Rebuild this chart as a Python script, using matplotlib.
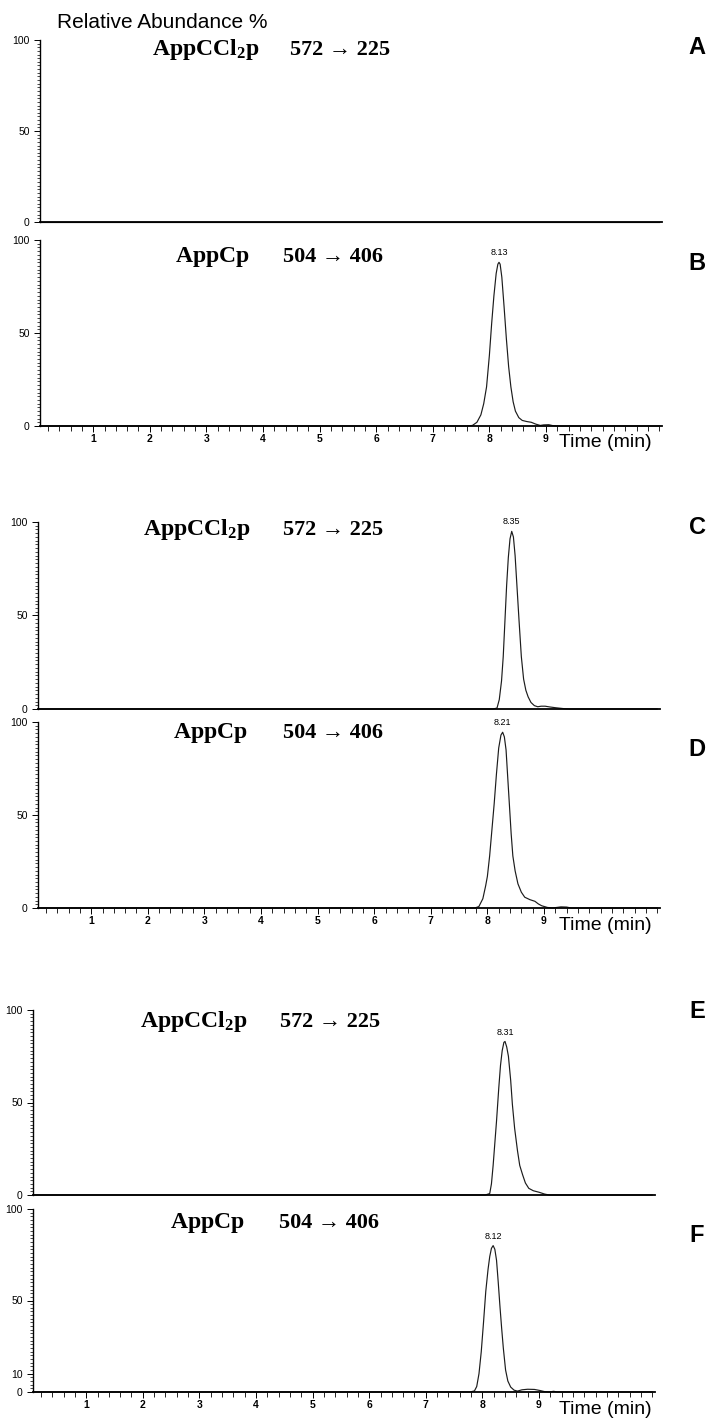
import matplotlib
matplotlib.use("Agg")
import matplotlib.pyplot as plt
from matplotlib.ticker import MultipleLocator, FixedLocator, NullLocator

plt.rcParams['font.family'] = ['Liberation Sans', 'DejaVu Sans']
plt.rcParams['mathtext.fontset'] = 'custom'
plt.rcParams['mathtext.bf'] = 'Liberation Serif:bold'
plt.rcParams['mathtext.rm'] = 'Liberation Serif'
plt.rcParams['mathtext.it'] = 'Liberation Serif:italic'

# ---------------- data (time in min, relative abundance %) ----------------
a_time = [0.06, 11.0]
a_int = [0, 0]

b_time = [0.06, 7.60, 7.70, 7.78, 7.85, 7.90, 7.95, 8.00, 8.04, 8.08, 8.12, 8.15, 8.17,
          8.19, 8.22, 8.26, 8.30, 8.34, 8.38, 8.42, 8.46, 8.52, 8.58, 8.66, 8.74, 8.82,
          8.90, 8.96, 9.05, 9.12, 9.20, 11.0]
b_int = [0, 0, 0.3, 2, 6, 12, 21, 38, 55, 70, 82, 87, 88,
         87, 80, 64, 47, 32, 21, 13, 8, 4.5, 3, 2.4, 2, 1,
         0.3, 0.6, 0.7, 0.2, 0, 0]

c_time = [0.06, 8.10, 8.17, 8.21, 8.25, 8.28, 8.31, 8.34, 8.37, 8.40, 8.43, 8.46, 8.49,
          8.52, 8.56, 8.60, 8.64, 8.68, 8.72, 8.77, 8.83, 8.89, 8.95, 9.02, 9.10, 9.20,
          9.35, 9.45, 11.0]
c_int = [0, 0, 0.5, 5, 15, 28, 47, 66, 81, 91, 95, 92, 82,
         67, 47, 28, 16, 10, 6.5, 3.5, 1.8, 1.2, 1.5, 1.5, 1.1, 0.7,
         0.2, 0, 0]

d_time = [0.06, 7.78, 7.85, 7.92, 7.97, 8.00, 8.04, 8.08, 8.12, 8.16, 8.20, 8.24, 8.27,
          8.30, 8.33, 8.36, 8.39, 8.42, 8.45, 8.49, 8.54, 8.60, 8.66, 8.75, 8.84, 8.90,
          8.96, 9.06, 9.15, 9.30, 9.40, 9.48, 11.0]
d_int = [0, 0, 0.8, 5, 12, 17, 28, 42, 56, 72, 86, 93, 94.5,
         92, 85, 70, 55, 40, 28, 20, 13, 8.5, 5.8, 4.5, 3.6, 2.2,
         1.2, 0.3, 0, 0.6, 0.5, 0, 0]

e_time = [0.06, 8.05, 8.13, 8.16, 8.19, 8.22, 8.25, 8.29, 8.32, 8.35, 8.38, 8.40, 8.43,
          8.46, 8.50, 8.53, 8.57, 8.62, 8.66, 8.71, 8.76, 8.82, 8.90, 9.00, 9.10, 9.18, 11.0]
e_int = [0, 0, 0.8, 6, 16, 28, 40, 58, 70, 78, 82.5, 83, 80,
         75, 62, 49, 36, 24, 16, 11, 6.5, 3.6, 2.3, 1.5, 0.5, 0, 0]

f_time = [0.06, 7.78, 7.86, 7.90, 7.94, 7.98, 8.02, 8.06, 8.10, 8.13, 8.16, 8.19, 8.22,
          8.25, 8.28, 8.31, 8.34, 8.37, 8.41, 8.45, 8.50, 8.56, 8.62, 8.70, 8.80, 8.92,
          9.02, 9.10, 9.18, 9.26, 9.32, 11.0]
f_int = [0, 0, 0.6, 3, 10, 22, 38, 55, 67, 74, 78.5, 80, 78,
         72, 60, 47, 35, 24, 12, 6, 2.7, 1, 0.5, 1.2, 1.5, 1.4,
         0.8, 0.2, 0, 0.4, 0, 0]

panel_letters = ['A', 'B', 'C', 'D', 'E', 'F']
compounds = ['AppCCl2p', 'AppCp', 'AppCCl2p', 'AppCp', 'AppCCl2p', 'AppCp']
transitions = ['572 \u2192 225', '504 \u2192 406', '572 \u2192 225',
               '504 \u2192 406', '572 \u2192 225', '504 \u2192 406']
peak_labels = [None, '8.13', '8.35', '8.21', '8.31', '8.12']
x_tick_labels = ['1', '2', '3', '4', '5', '6', '7', '8', '9']
y_ticks_default = [0, 50, 100]
y_ticks_f = [0, 10, 50, 100]

traces = [(a_time, a_int), (b_time, b_int), (c_time, c_int),
          (d_time, d_int), (e_time, e_int), (f_time, f_int)]

# ---------------- layout (pixels) ----------------
W, H = 716, 1422
fig = plt.figure(figsize=(W / 100, H / 100), dpi=100)

boxes = [  # left, right, top, bottom
    (40, 662, 40, 222),
    (40, 662, 240, 426),
    (38, 660, 522, 709),
    (38, 660, 722, 908),
    (33, 655, 1010, 1195),
    (33, 655, 1209, 1392),
]
name_pos = [(152, 50), (175, 257), (143, 530), (173, 733), (140, 1022), (170, 1223)]
trans_x = [290, 283, 283, 283, 280, 279]
letter_y = [48, 263, 527, 750, 1012, 1235]


def fx(x):
    return x / W


def fy(y):
    return 1 - y / H


def mathname(s):
    if s == 'AppCCl2p':
        return r'$\mathbf{AppCCl_2p}$'
    return r'$\mathbf{' + s + '}$'


for i, (l, r, t, b) in enumerate(boxes):
    ax = fig.add_axes([fx(l), fy(b), (r - l) / W, (b - t) / H])
    tt, vv = traces[i]
    ax.plot(tt, vv, color='#1c1c1c', lw=0.85, clip_on=False, solid_joinstyle='round')
    ax.set_xlim(0.06, 11.05)
    ax.set_ylim(0, 100)
    for s in ['top', 'right']:
        ax.spines[s].set_visible(False)
    ax.spines['left'].set_linewidth(1.0)
    ax.spines['bottom'].set_linewidth(1.3)

    yt = y_ticks_f if i == 5 else y_ticks_default
    ax.yaxis.set_major_locator(FixedLocator(yt))
    ax.set_yticklabels([str(v) for v in yt])
    ax.yaxis.set_minor_locator(MultipleLocator(2))
    ax.tick_params(axis='y', which='major', direction='out', length=4, width=0.7,
                   labelsize=7.5, pad=3.5)
    ax.tick_params(axis='y', which='minor', direction='out', length=2.5, width=0.5)

    if i % 2 == 1:
        ax.xaxis.set_major_locator(FixedLocator(list(range(1, 10))))
        ax.set_xticklabels(x_tick_labels, fontweight='bold')
        ax.xaxis.set_minor_locator(FixedLocator([k * 0.2 for k in range(1, 56)]))
        ax.tick_params(axis='x', which='major', direction='out', length=4, width=0.7,
                       labelsize=7.5, pad=2)
        ax.tick_params(axis='x', which='minor', direction='out', length=3.5, width=0.6)
        fig.text(fx(559), fy(b + 17), 'Time (min)', fontsize=14, ha='left', va='center')
    else:
        ax.xaxis.set_major_locator(NullLocator())
        ax.xaxis.set_minor_locator(NullLocator())

    if peak_labels[i] is not None:
        k = max(range(len(vv)), key=lambda j: vv[j])
        ax.annotate(peak_labels[i], xy=(tt[k], vv[k]), xytext=(0, 3.5),
                    textcoords='offset points', ha='center', va='bottom', fontsize=6.5)

    nx, ny = name_pos[i]
    fig.text(fx(nx), fy(ny), mathname(compounds[i]), fontsize=17, ha='left', va='center')
    fig.text(fx(trans_x[i]), fy(ny), transitions[i], fontsize=16, ha='left', va='center',
             family=['Liberation Serif', 'DejaVu Serif'], weight='bold')
    fig.text(fx(697), fy(letter_y[i]), panel_letters[i], fontsize=17, weight='bold',
             ha='center', va='center')

fig.text(fx(57), fy(22), 'Relative Abundance %', fontsize=15, ha='left', va='center')

fig.savefig('out.png', dpi=100, facecolor='white')
